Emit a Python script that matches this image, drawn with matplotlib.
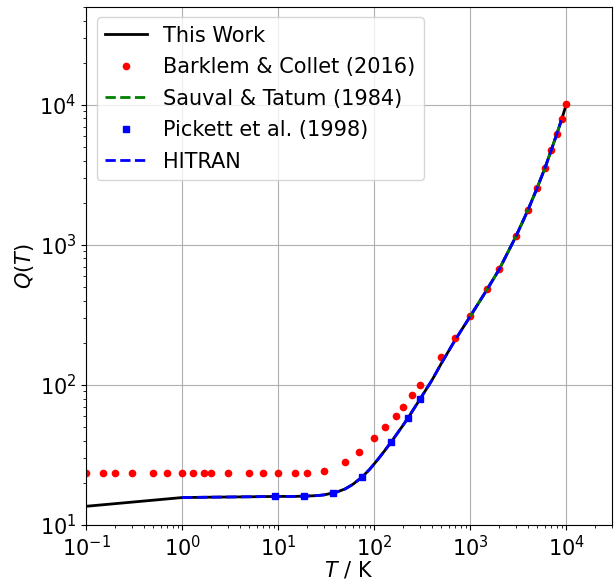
import matplotlib
matplotlib.use('Agg')
import matplotlib.pyplot as plt

# This Work
T_work = [0.1, 1, 2, 5, 10, 15, 20, 25, 30, 40, 50, 60, 75, 90, 110, 130, 150,
          200, 225, 300, 400, 500, 700, 1000, 1500, 2000, 3000, 4000, 5000,
          6000, 7000, 8000, 9000, 10000]
Q_work = [13.6, 15.7, 15.8, 15.9, 16.0, 16.0, 16.1, 16.2, 16.4, 17.1, 18.1,
          19.5, 22.0, 25.0, 29.5, 34.2, 39.0, 51.5, 58.0, 79.0, 108, 142, 210,
          308, 480, 665, 1150, 1770, 2560, 3520, 4750, 6200, 7900, 10000]

# Barklem & Collet (2016)
T_bc = [0.1, 0.15, 0.2, 0.3, 0.5, 0.7, 1.0, 1.3, 1.7, 2.0, 3.0, 5.0, 7.0, 10,
        15, 20, 30, 50, 70, 100, 130, 170, 200, 250, 300, 500, 700, 1000,
        1500, 2000, 3000, 4000, 5000, 6000, 7000, 8000, 9000, 10000]
Q_bc = [23.6, 23.6, 23.6, 23.6, 23.6, 23.6, 23.6, 23.6, 23.6, 23.6, 23.6,
        23.6, 23.6, 23.6, 23.6, 23.7, 24.3, 28.3, 33.2, 41.5, 50.0, 60.5,
        69.5, 84.5, 100, 158, 218, 311, 483, 670, 1160, 1780, 2560, 3530,
        4770, 6210, 7910, 10100]

# Sauval & Tatum (1984)
T_st = [1000, 1500, 2000, 3000, 4000, 5000, 6000, 7000, 8000, 9000]
Q_st = [308, 480, 665, 1150, 1770, 2560, 3520, 4750, 6200, 7900]

# Pickett et al. (1998)
T_pk = [9.375, 18.75, 37.5, 75, 150, 225, 300]
Q_pk = [16.0, 16.0, 16.8, 22.0, 39.2, 58.5, 80.0]

# HITRAN
T_hit = [1, 2, 5, 10, 15, 20, 25, 30, 40, 50, 60, 75, 90, 110, 130, 150, 200,
         225, 300, 400, 500, 700, 1000, 1500, 2000, 3000, 4000, 5000, 6000,
         7000, 8000, 8900]
Q_hit = [15.7, 15.8, 15.9, 16.0, 16.0, 16.1, 16.2, 16.4, 17.1, 18.1, 19.5,
         22.0, 25.0, 29.5, 34.2, 39.0, 51.5, 58.0, 79.0, 108, 142, 210, 308,
         480, 665, 1150, 1770, 2560, 3520, 4750, 6200, 7750]

fig = plt.figure(figsize=(6.15, 5.83), dpi=100)
ax = fig.add_subplot(111)
fig.subplots_adjust(left=0.140, right=0.995, bottom=0.0995, top=0.988)

ax.plot(T_work, Q_work, 'k-', lw=2, label='This Work')
ax.plot(T_bc, Q_bc, 'r.', ms=9, ls='none', label='Barklem & Collet (2016)')
ax.plot(T_st, Q_st, 'g--', lw=2, label='Sauval & Tatum (1984)')
ax.plot(T_pk, Q_pk, 'bs', ms=4.5, ls='none', label='Pickett et al. (1998)')
ax.plot(T_hit, Q_hit, 'b--', lw=2, label='HITRAN')

ax.set_xscale('log')
ax.set_yscale('log')
ax.set_xlim(0.1, 3e4)
ax.set_ylim(10, 5e4)
ax.grid(True)
ax.tick_params(labelsize=15)
ax.set_xlabel('$T$ / K', fontsize=15, labelpad=0)
ax.set_ylabel('$Q(T)$', fontsize=15, labelpad=2)
ax.legend(loc='upper left', fontsize=15, labelspacing=0.55)

fig.savefig('out.png', dpi=100)
